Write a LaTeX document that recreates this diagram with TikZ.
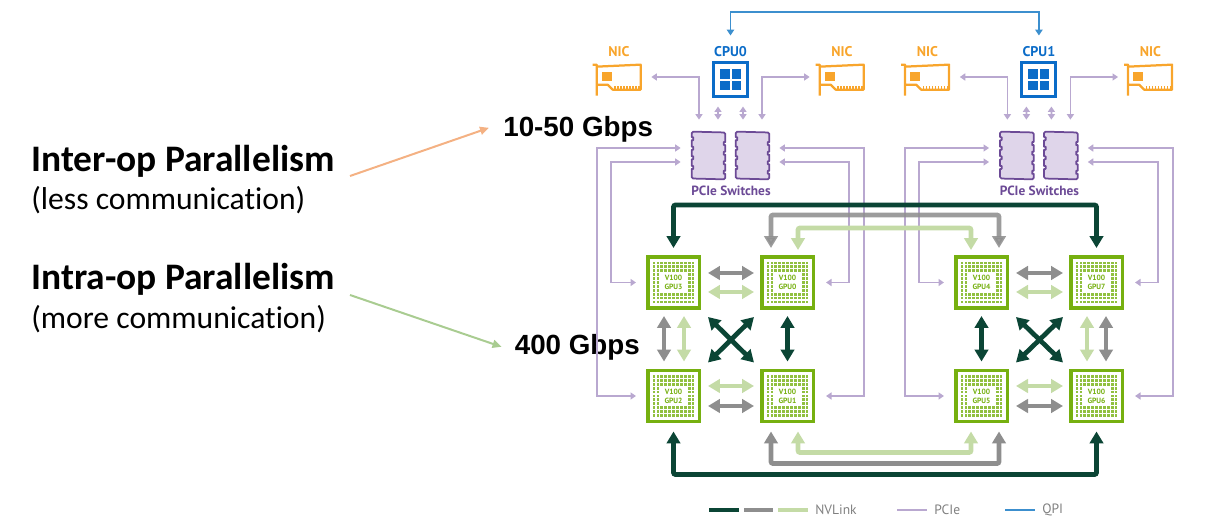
\documentclass[tikz,border=0pt]{standalone}
\usepackage{fontspec}
\setmainfont[Ligatures=NoCommon]{Carlito}
\newfontfamily\arialfont{Liberation Sans}
\newfontfamily\dinfont{PT Sans}
\usetikzlibrary{calc,arrows.meta,positioning}
\definecolor{nvdark}{HTML}{0B4535}
\definecolor{nvgray}{HTML}{8E8E8E}
\definecolor{nvlight}{HTML}{C4DBA6}
\definecolor{pcieline}{HTML}{B9A8D0}
\definecolor{swfill}{HTML}{DFD5EA}
\definecolor{swedge}{HTML}{6C4A96}
\definecolor{nicorange}{HTML}{F8A52C}
\definecolor{cpublue}{HTML}{0B6CC8}
\definecolor{qpiblue}{HTML}{3C8FCE}
\definecolor{gpugreen}{HTML}{76B010}
\definecolor{interarrow}{HTML}{F4B183}
\definecolor{intraarrow}{HTML}{A9CC91}
\tikzset{
  nvlink/.style={line width=0.095cm,rounded corners=0.04cm,{Triangle[length=0.24cm,width=0.27cm]}-{Triangle[length=0.24cm,width=0.27cm]}},
  pcie/.style={pcieline,line width=0.035cm,{Triangle[length=0.11cm,width=0.14cm]}-{Triangle[length=0.11cm,width=0.14cm]}},
  gpubox/.style={draw=gpugreen,line width=0.07cm,fill=white,minimum size=1.03cm,inner sep=0pt},
  swbox/.style={minimum width=0.66cm,minimum height=0.94cm,inner sep=0pt},
  nicbox/.style={minimum width=0.96cm,minimum height=0.6cm,inner sep=0pt},
  cpubox/.style={draw=cpublue,line width=0.06cm,fill=white,minimum size=0.68cm,inner sep=0pt},
  title/.style={font=\dinfont\bfseries\fontsize{8}{9}\selectfont},
  legend/.style={font=\dinfont\fontsize{7.7}{8}\selectfont,text=black!50,anchor=west,inner sep=0pt},
  pointer/.style={line width=0.04cm,-{Triangle[length=0.18cm,width=0.16cm]}},
}
\begin{document}
\begin{tikzpicture}[x=0.02cm,y=-0.02cm]
\useasboundingbox (0,0) rectangle (1211,523);

% left hand text
\node[anchor=base west,inner sep=0pt,font=\bfseries\fontsize{21.3}{24}\selectfont] (inter) at (31,172) {Inter-op Parallelism};
\node[anchor=base west,inner sep=0pt,font=\fontsize{18}{20}\selectfont] (interb) at (31,210) {(less communication)};
\node[anchor=base west,inner sep=0pt,font=\bfseries\fontsize{21.3}{24}\selectfont] (intra) at (31,290) {Intra-op Parallelism};
\node[anchor=base west,inner sep=0pt,font=\fontsize{18}{20}\selectfont] (intrab) at (31,329) {(more communication)};
\node[anchor=base west,inner sep=0pt,font=\arialfont\bfseries\fontsize{15.8}{18}\selectfont] (slow) at (503,137) {10-50 Gbps};
\node[anchor=base west,inner sep=0pt,font=\arialfont\bfseries\fontsize{15.8}{18}\selectfont] (fast) at (514.5,355) {400 Gbps};
\coordinate (interend) at (350,176);
\coordinate (intraend) at (350,295);
\draw[pointer,interarrow] (interend) -- ($(slow.west)+(-14,-2)$);
\draw[pointer,intraarrow] (intraend) -- ($(fast.west)+(-13,-1)$);

% gpus
\foreach \n/\x/\y in {3/673.5/282.5,0/787.5/282.5,2/673.5/396,1/787.5/396,4/981.5/282.5,7/1096.5/282.5,5/981.5/396,6/1096.5/396}
{
\node[gpubox] (gpu\n) at (\x,\y) {};
\fill[gpugreen] ($(gpu\n.north)+(-5,0)$) rectangle ($(gpu\n.north)+(5,2.5)$);
\fill[gpugreen] ($(gpu\n.south)+(-5,0)$) rectangle ($(gpu\n.south)+(5,-2.5)$);
\fill[gpugreen] ($(gpu\n.west)+(0,-6)$) rectangle ($(gpu\n.west)+(2.5,6)$);
\fill[gpugreen] ($(gpu\n.east)+(0,-6)$) rectangle ($(gpu\n.east)+(-2.5,6)$);
\foreach \i in {-5,...,5}
  \foreach \j in {-5,...,5}
  {
  \pgfmathparse{(abs(\i)>3 || abs(\j)>2) ? 1 : 0}
  \ifnum\pgfmathresult=1
  \fill[gpugreen!80] ($(gpu\n)+(\i*3.9-1.4,\j*3.9-1.4)$) rectangle +(2.8,2.8);
  \fi
  }
\node[align=center,inner sep=0pt,text=gpugreen,font=\dinfont\bfseries\fontsize{4.3}{5.2}\selectfont] (gpulabel\n) at (gpu\n) {V100\\GPU\n};
}

% cpus, nics and switches, same for both sockets
\foreach \g/\dx/\cpu/\tl/\tr/\bl/\br in {A/0/CPU0/3/0/2/1,B/308.4/CPU1/4/7/5/6}
{
\node[cpubox] (cpu\g) at (730.5+\dx,80) {};
\fill[cpublue] ($(cpu\g)+(-10.5,-10.5)$) rectangle ($(cpu\g)+(-1,-1)$);
\fill[cpublue] ($(cpu\g)+(1,-10.5)$) rectangle ($(cpu\g)+(10.5,-1)$);
\fill[cpublue] ($(cpu\g)+(-10.5,1)$) rectangle ($(cpu\g)+(-1,10.5)$);
\fill[cpublue] ($(cpu\g)+(1,1)$) rectangle ($(cpu\g)+(10.5,10.5)$);
\fill[cpublue] ($(cpu\g.north)+(-10,0)$) rectangle ($(cpu\g.north)+(10,2.2)$);
\fill[cpublue] ($(cpu\g.south)+(-10,0)$) rectangle ($(cpu\g.south)+(10,-2.2)$);
\fill[cpublue] ($(cpu\g.west)+(0,-10)$) rectangle ($(cpu\g.west)+(2.2,10)$);
\fill[cpublue] ($(cpu\g.east)+(0,-10)$) rectangle ($(cpu\g.east)+(-2.2,10)$);
\node[title,text=cpublue] (cpulabel\g) at (730.5+\dx,51.5) {\cpu};

\node[nicbox] (nic\g l) at (617+\dx,81) {};
\node[nicbox] (nic\g r) at (840+\dx,81) {};
\node[title,text=nicorange] (niclabel\g l) at (619+\dx,51.5) {NIC};
\node[title,text=nicorange] (niclabel\g r) at (842+\dx,51.5) {NIC};
\foreach \s in {l,r}
{
\draw[nicorange,line width=0.045cm,line join=round]
  ($(nic\g\s.north west)+(0,-1)$) -- ++(4,0) -- ++(0,31)
  ++(0,-11) -- ++(11,0) -- ++(5,5) -- ++(28,0) -- ++(0,-25) -- ($(nic\g\s.north west)+(4,1)$);
\fill[nicorange] ($(nic\g\s.north west)+(9,6)$) rectangle +(10,9);
\foreach \k in {0,...,8}
  \fill[nicorange] ($(nic\g\s.north west)+(21.5+\k*3,20.5)$) rectangle +(1.6,4);
}

\node[swbox] (sw\g a) at (708.5+\dx,155.5) {};
\node[swbox] (sw\g b) at (752.5+\dx,155.5) {};
\foreach \s in {a,b}
{
\draw[swedge,fill=swfill,line width=0.035cm,line join=round]
  ($(sw\g\s.north west)+(1.5,0)$) -- ++(-1.5,1.5) -- ++(0,4)
  \foreach \k in {1,2,3,4} { -- ++(1.6,0) -- ++(0,3) -- ++(-1.6,0) -- ++(0,6.6) } -- ++(0,1.5)
  -- ++(1.5,1.5) -- ($(sw\g\s.south east)+(-1.5,0)$) -- ++(1.5,-1.5) -- ++(0,-4)
  \foreach \k in {1,2,3,4} { -- ++(-1.6,0) -- ++(0,-3) -- ++(1.6,0) -- ++(0,-6.6) } -- ++(0,-1.5)
  -- ++(-1.5,-1.5) -- cycle;
}
\node[text=swedge,inner sep=0pt,font=\dinfont\bfseries\fontsize{7.6}{8}\selectfont] (swlabel\g) at (731+\dx,191) {PCIe Switches};

\draw[pcie] ($(nic\g l.east)+(10,-4)$) -| ($(sw\g a.north)+(-9.5,-12)$);
\draw[pcie] ($(nic\g r.west)+(-6,-4)$) -| ($(sw\g b.north)+(9.5,-12)$);
\draw[pcie] ($(cpu\g.south)+(-12.5,8)$) -- ($(sw\g a.north)+(9.5,-12)$);
\draw[pcie] ($(cpu\g.south)+(12.5,8)$) -- ($(sw\g b.north)+(-9.5,-12)$);

\draw[pcie] ($(sw\g a.west)+(-11,-7.5)$) -| ($(gpu\bl.west)+(-49,0)$) -- ($(gpu\bl.west)+(-10,0)$);
\draw[pcie] ($(sw\g a.west)+(-11,6.5)$) -| ($(gpu\tl.west)+(-35,0)$) -- ($(gpu\tl.west)+(-10,0)$);
\draw[pcie] ($(sw\g b.east)+(10,-7.5)$) -| ($(gpu\br.east)+(49,0)$) -- ($(gpu\br.east)+(11,0)$);
\draw[pcie] ($(sw\g b.east)+(10,6.5)$) -| ($(gpu\tr.east)+(34,0)$) -- ($(gpu\tr.east)+(11,0)$);
}

% qpi
\coordinate (qpitop) at (884,12);
\draw[qpiblue,line width=0.035cm,{Triangle[length=0.12cm,width=0.15cm]}-{Triangle[length=0.12cm,width=0.15cm]}]
  ($(cpuA.north)+(0,-26)$) |- (qpitop) -| ($(cpuB.north)+(0,-26)$);

% nvlink across sockets
\draw[nvlight,nvlink] ($(gpu0.north)+(10.5,-5)$) -- ($(gpu0.north)+(10.5,-27)$) -- ($(gpu4.north)+(-10.5,-27)$) -- ($(gpu4.north)+(-10.5,-5)$);
\draw[nvgray,nvlink,opacity=.88] ($(gpu0.north)+(-16.5,-7)$) -- ($(gpu0.north)+(-16.5,-40)$) -- ($(gpu4.north)+(17.5,-40)$) -- ($(gpu4.north)+(17.5,-7)$);
\draw[nvdark,nvlink] ($(gpu3.north)+(0,-7)$) -- ($(gpu3.north)+(0,-50)$) -- ($(gpu7.north)+(0,-50)$) -- ($(gpu7.north)+(0,-7)$);
\draw[nvlight,nvlink] ($(gpu1.south)+(10.5,8)$) -- ($(gpu1.south)+(10.5,29)$) -- ($(gpu5.south)+(-10.5,29)$) -- ($(gpu5.south)+(-10.5,8)$);
\draw[nvgray,nvlink] ($(gpu1.south)+(-16.5,8)$) -- ($(gpu1.south)+(-16.5,40)$) -- ($(gpu5.south)+(17.5,40)$) -- ($(gpu5.south)+(17.5,8)$);
\draw[nvdark,nvlink] ($(gpu2.south)+(0,8)$) -- ($(gpu2.south)+(0,51)$) -- ($(gpu6.south)+(0,51)$) -- ($(gpu6.south)+(0,8)$);

% nvlink inside each socket
\foreach \a/\b in {3/0,4/7}
{
\draw[nvgray,nvlink] ($(gpu\a.east)+(7,-9.5)$) -- ($(gpu\b.west)+(-6,-9.5)$);
\draw[nvlight,nvlink] ($(gpu\a.east)+(7,9.5)$) -- ($(gpu\b.west)+(-6,9.5)$);
}
\foreach \a/\b in {2/1,5/6}
{
\draw[nvlight,nvlink] ($(gpu\a.east)+(7,-10)$) -- ($(gpu\b.west)+(-6,-10)$);
\draw[nvgray,nvlink] ($(gpu\a.east)+(7,10)$) -- ($(gpu\b.west)+(-6,10)$);
}
\draw[nvgray,nvlink] ($(gpu3.south)+(-9.5,6)$) -- ($(gpu2.north)+(-9.5,-7)$);
\draw[nvlight,nvlink] ($(gpu3.south)+(10.5,6)$) -- ($(gpu2.north)+(10.5,-7)$);
\draw[nvdark,nvlink] ($(gpu0.south)+(0,6)$) -- ($(gpu1.north)+(0,-7)$);
\draw[nvdark,nvlink] ($(gpu4.south)+(0,6)$) -- ($(gpu5.north)+(0,-7)$);
\draw[nvlight,nvlink] ($(gpu7.south)+(-9.5,6)$) -- ($(gpu6.north)+(-9.5,-7)$);
\draw[nvgray,nvlink] ($(gpu7.south)+(9.5,6)$) -- ($(gpu6.north)+(9.5,-7)$);
\draw[nvdark,nvlink] ($(gpu3.south east)+(7,7)$) -- ($(gpu1.north west)+(-6,-6)$);
\draw[nvdark,nvlink] ($(gpu0.south west)+(-6,7)$) -- ($(gpu2.north east)+(7,-6)$);
\draw[nvdark,nvlink] ($(gpu4.south east)+(7,7)$) -- ($(gpu6.north west)+(-6,-6)$);
\draw[nvdark,nvlink] ($(gpu7.south west)+(-6,7)$) -- ($(gpu5.north east)+(7,-6)$);

% legend
\draw[nvdark,line width=0.095cm] (709,510) -- ++(30,0);
\draw[nvgray,line width=0.095cm] (744,510) -- ++(29,0);
\draw[nvlight,line width=0.095cm] (778,510) -- ++(30,0);
\node[legend] (keynv) at (815,510) {NVLink};
\draw[pcieline,line width=0.035cm] (897,510) -- ++(30,0);
\node[legend] (keypcie) at (934,510) {PCIe};
\draw[qpiblue,line width=0.035cm] (1005,510) -- ++(30,0);
\node[legend] (keyqpi) at (1042,510) {QPI};
\end{tikzpicture}
\end{document}
